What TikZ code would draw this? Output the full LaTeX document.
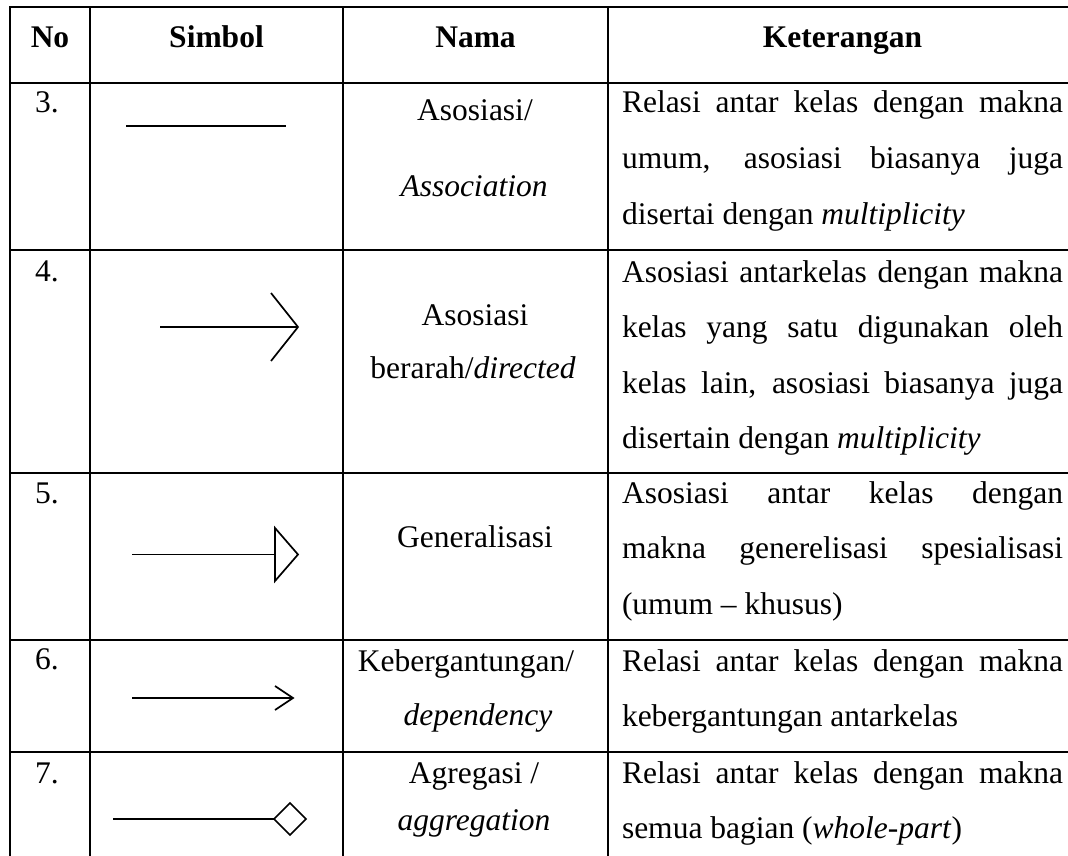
\documentclass[tikz,border=0pt]{standalone}
\usepackage{fontspec}
\setmainfont{Liberation Serif}
\begin{document}
\begin{tikzpicture}[x=1pt,y=-1pt,
  grid/.style={line width=2.5pt,line cap=rect},
  sym/.style={line width=1.7pt},
  txt/.style={inner sep=0pt,outer sep=0pt,font=\fontsize{31.5}{37}\selectfont},
  lft/.style={txt,anchor=base west},
  ctr/.style={txt,anchor=base},
  hd/.style={txt,anchor=base,font=\fontsize{31.5}{37}\selectfont\bfseries}]
\useasboundingbox (0,0) rectangle (1068,856);
\newcommand{\jl}[1]{\makebox[441pt][s]{#1}}
% grid
\foreach \x in {10,90,343,608}{\draw[grid] (\x,7) -- (\x,880);}
\foreach \y in {7,83,250,473,640,752}{\draw[grid] (10,\y) -- (1090,\y);}
% header
\node[hd] (hno) at (50,48) {No};
\node[hd] (hsim) at (216.5,48) {Simbol};
\node[hd] (hnama) at (475.5,48) {Nama};
\node[hd] (hket) at (842.5,48) {Keterangan};
% numbers
\node[ctr] (n3) at (47,113) {3.};
\node[ctr] (n4) at (47,281) {4.};
\node[ctr] (n5) at (47,503) {5.};
\node[ctr] (n6) at (47,669) {6.};
\node[ctr] (n7) at (47,783) {7.};
% names
\node[ctr] (a3a) at (475,120.5) {Asosiasi/};
\node[ctr] (a3b) at (474,196) {\itshape Association};
\node[ctr] (a4a) at (475,325) {Asosiasi};
\node[ctr] (a4b) at (473,378) {berarah/\textit{directed}};
\node[ctr] (a5) at (475,547) {Generalisasi};
\node[ctr] (a6a) at (466,671) {Kebergantungan/};
\node[ctr] (a6b) at (478,725) {\itshape dependency};
\node[ctr] (a7a) at (474,783) {Agregasi /};
\node[ctr] (a7b) at (474,830) {\itshape aggregation};
% descriptions
\node[lft] (k3a) at (622,113) {\jl{Relasi antar kelas dengan makna}};
\node[lft] (k3b) at (622,168.5) {\jl{umum, asosiasi biasanya juga}};
\node[lft] (k3c) at (622,224) {disertai dengan \textit{multiplicity}};
\node[lft] (k4a) at (622,282) {\jl{Asosiasi antarkelas dengan makna}};
\node[lft] (k4b) at (622,337.5) {\jl{kelas yang satu digunakan oleh}};
\node[lft] (k4c) at (622,393) {\jl{kelas lain, asosiasi biasanya juga}};
\node[lft] (k4d) at (622,448.5) {disertain dengan \textit{multiplicity}};
\node[lft] (k5a) at (622,503) {\jl{Asosiasi antar kelas dengan}};
\node[lft] (k5b) at (622,558.5) {\jl{makna generelisasi spesialisasi}};
\node[lft] (k5c) at (622,614) {(umum -- khusus)};
\node[lft] (k6a) at (622,671) {\jl{Relasi antar kelas dengan makna}};
\node[lft] (k6b) at (622,726.5) {kebergantungan antarkelas};
\node[lft] (k7a) at (622,783) {\jl{Relasi antar kelas dengan makna}};
\node[lft] (k7b) at (622,838.5) {semua bagian (\textit{whole-part})};
% symbols
\coordinate (s3a) at (126,126); \coordinate (s3b) at (286,126);
\draw[sym] (s3a) -- (s3b);
\coordinate (s4a) at (160,327); \coordinate (s4b) at (298,327);
\draw[sym] (s4a) -- (s4b);
\draw[sym] (271,293) -- (s4b) -- (271,361);
\coordinate (s5a) at (132,554.5); \coordinate (s5b) at (275,554.5);
\draw[sym] (s5a) -- (s5b);
\draw[sym,line join=miter] (275,528) -- (298,554.5) -- (275,581) -- cycle;
\coordinate (s6a) at (132,698); \coordinate (s6b) at (293,698);
\draw[sym] (s6a) -- (s6b);
\draw[sym] (275,686) -- (s6b) -- (275,710);
\coordinate (s7a) at (113,819); \coordinate (s7b) at (274,819);
\draw[sym] (s7a) -- (s7b);
\draw[sym] (s7b) -- (290,803) -- (306,819) -- (290,835) -- cycle;
\end{tikzpicture}
\end{document}
